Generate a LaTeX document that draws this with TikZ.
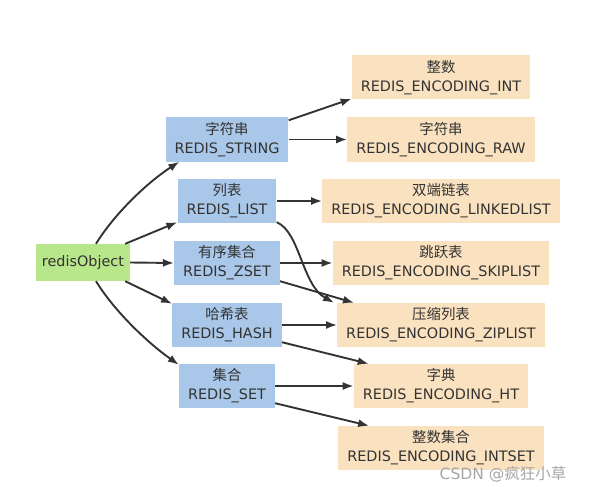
\documentclass[tikz,border=0pt]{standalone}
\usepackage{fontspec}
\setmainfont{DejaVu Sans}
\newfontfamily\cjk{Noto Sans CJK SC}
\usetikzlibrary{arrows.meta,calc}
\definecolor{typeblue}{HTML}{A9C7E8}
\definecolor{encpeach}{HTML}{FAE2C0}
\definecolor{objgreen}{HTML}{B8E68B}
\definecolor{edgegray}{HTML}{333333}
\tikzset{
    obj-box/.style = {fill=objgreen, rectangle, minimum width=94pt, minimum height=37pt, inner sep=0pt, text=edgegray},
    type-box/.style = {fill=typeblue, rectangle, align=center, inner xsep=9pt, inner ysep=3pt, minimum height=44pt, text=edgegray},
    enc-box/.style = {fill=encpeach, rectangle, align=center, inner xsep=9pt, inner ysep=3pt, minimum height=44pt, text=edgegray},
    edge/.style = {draw=edgegray, line width=1.9pt, -{Latex[length=11pt,width=8pt]}},
}

\begin{document}
\begin{tikzpicture}[x=1pt, y=-1pt, font=\fontsize{14.4}{19}\selectfont]
\useasboundingbox (0,0) rectangle (595,487);

\node [obj-box] (obj) at (83,262.5) {redisObject};

% object types
\node [type-box] (str)  at (227,139.5) {{\cjk 字符串}\\REDIS\_STRING};
\node [type-box] (list) at (227,201)   {{\cjk 列表}\\REDIS\_LIST};
\node [type-box] (zset) at (227,263)   {{\cjk 有序集合}\\REDIS\_ZSET};
\node [type-box] (hash) at (227,325)   {{\cjk 哈希表}\\REDIS\_HASH};
\node [type-box] (set)  at (227,386)   {{\cjk 集合}\\REDIS\_SET};

% encodings
\node [enc-box] (int)    at (441,77.5)  {{\cjk 整数}\\REDIS\_ENCODING\_INT};
\node [enc-box] (raw)    at (441,139.5) {{\cjk 字符串}\\REDIS\_ENCODING\_RAW};
\node [enc-box] (linked) at (441,201)   {{\cjk 双端链表}\\REDIS\_ENCODING\_LINKEDLIST};
\node [enc-box] (skip)   at (441,263)   {{\cjk 跳跃表}\\REDIS\_ENCODING\_SKIPLIST};
\node [enc-box] (zip)    at (441,325)   {{\cjk 压缩列表}\\REDIS\_ENCODING\_ZIPLIST};
\node [enc-box] (ht)     at (441,386)   {{\cjk 字典}\\REDIS\_ENCODING\_HT};
\node [enc-box] (intset) at (441,448)   {{\cjk 整数集合}\\REDIS\_ENCODING\_INTSET};

% object -> types
\draw [edge] ($(obj.north)+(13,0)$) .. controls (115,213) and (148,182) .. ($(str.south west)+(14,0)$);
\draw [edge] ($(obj.north east)+(-5,0)$) -- ($(list.south west)+(0,-1)$);
\draw [edge] (obj.east) -- (zset.west);
\draw [edge] ($(obj.south east)+(-5,0)$) -- ($(hash.north west)+(0,1)$);
\draw [edge] ($(obj.south)+(13,0)$) .. controls (115,312) and (148,343) .. ($(set.north west)+(0,1)$);

% types -> encodings
\draw [edge] ($(str.north east)+(0,3)$) -- ($(int.south west)+(0,-1)$);
\draw [edge] (str.east) -- (raw.west);
\draw [edge] (list.east) -- (linked.west);
\draw [edge] ($(list.south east)+(0,-1)$) .. controls (300,232) and (302,285) .. ($(zip.north west)+(-3,0)$);
\draw [edge] (zset.east) -- (skip.west);
\draw [edge] ($(zset.south east)+(0,-4)$) -- ($(zip.north west)+(17,0)$);
\draw [edge] (hash.east) -- (zip.west);
\draw [edge] ($(hash.south east)+(0,-5)$) -- ($(ht.north west)+(15,0)$);
\draw [edge] (set.east) -- (ht.west);
\draw [edge] ($(set.south east)+(0,-5)$) -- ($(intset.north west)+(31,0)$);

\node [text=black!35, font=\fontsize{15.5}{19}\selectfont] (mark) at (503,474) {CSDN @{\cjk 疯狂小草}};
\end{tikzpicture}
\end{document}
